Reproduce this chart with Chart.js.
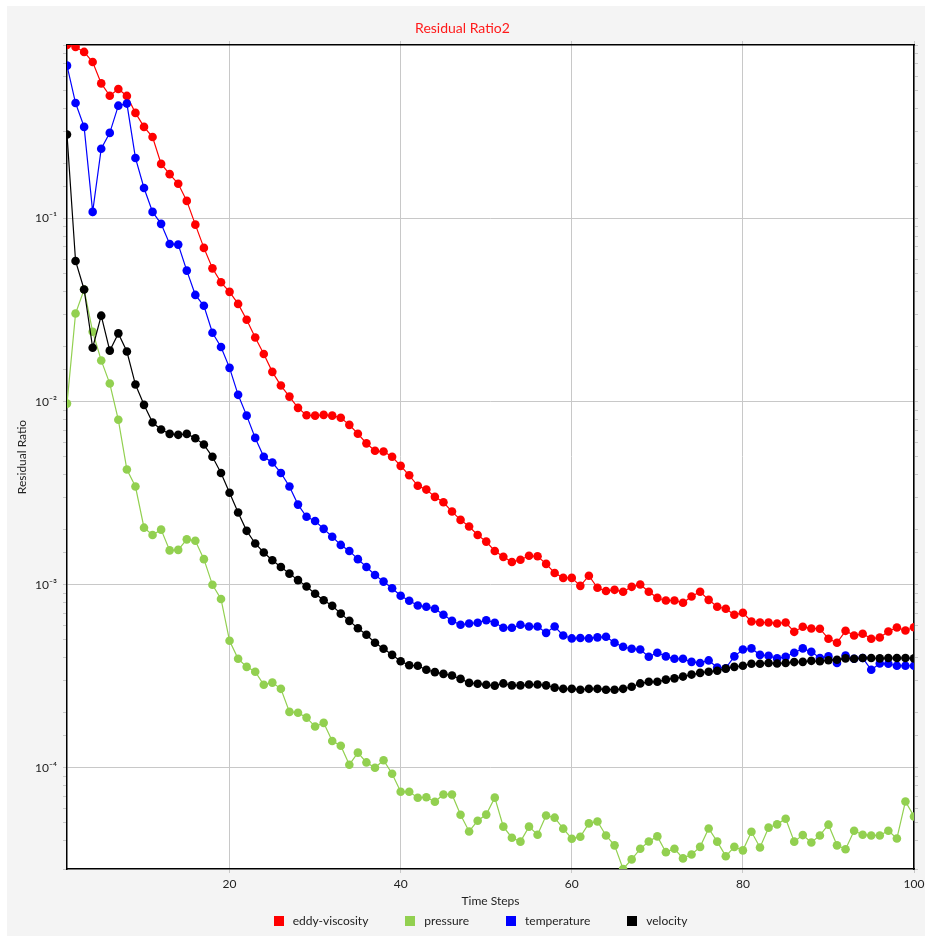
<!DOCTYPE html>
<html>
<head>
<meta charset="utf-8">
<script src="https://cdn.jsdelivr.net/npm/chart.js@4.4.1/dist/chart.umd.min.js"></script>
<style>
    html, body { margin: 0; padding: 0; background: #fff; }
    #wrap { position: relative; width: 925px; height: 936px; }
    #legend {
        position: absolute; left: 36px; width: 889px; top: 912px; height: 17px;
        display: flex; justify-content: center; align-items: center;
        font: 12px Lato, sans-serif; color: #222;
    }
    .item { display: flex; align-items: center; margin-right: 37px; }
    .item:last-child { margin-right: 0; }
    .box { width: 10px; height: 10px; margin-right: 9px; }
</style>
</head>
<body>
<div id="wrap">
    <canvas id="chart"></canvas>
    <div id="legend"></div>
</div>
<script>
// Data
const timeSteps = [
    1, 2, 3, 4, 5, 6, 7, 8, 9, 10, 11, 12, 13, 14, 15, 16, 17, 18, 19, 20,
    21, 22, 23, 24, 25, 26, 27, 28, 29, 30, 31, 32, 33, 34, 35, 36, 37, 38, 39, 40,
    41, 42, 43, 44, 45, 46, 47, 48, 49, 50, 51, 52, 53, 54, 55, 56, 57, 58, 59, 60,
    61, 62, 63, 64, 65, 66, 67, 68, 69, 70, 71, 72, 73, 74, 75, 76, 77, 78, 79, 80,
    81, 82, 83, 84, 85, 86, 87, 88, 89, 90, 91, 92, 93, 94, 95, 96, 97, 98, 99, 100
];
const xTicks = [20, 40, 60, 80, 100];

const eddyViscosity = [
    0.888, 0.866, 0.814, 0.717, 0.548, 0.469, 0.511, 0.468, 0.378, 0.317,
    0.279, 0.199, 0.175, 0.155, 0.125, 0.0927, 0.0692, 0.0535, 0.0449, 0.0398,
    0.0342, 0.0280, 0.0224, 0.0182, 0.01455, 0.01225, 0.01066, 0.00925, 0.00843, 0.00839,
    0.00847, 0.00839, 0.00817, 0.00747, 0.00668, 0.00592, 0.00539, 0.00534, 0.00500, 0.00446,
    0.00396, 0.00347, 0.00331, 0.00302, 0.00282, 0.00251, 0.00226, 0.00208, 0.00187, 0.00172,
    0.00153, 0.00142, 0.00133, 0.00137, 0.00144, 0.00143, 0.00130, 0.00116, 0.00109, 0.00109,
    0.000986, 0.00112, 0.000962, 0.000924, 0.000938, 0.000915, 0.000974, 0.001003, 0.000915, 0.000848,
    0.000820, 0.000820, 0.000797, 0.000862, 0.000915, 0.000827, 0.000758, 0.000739, 0.000685, 0.000703,
    0.000630, 0.000622, 0.000622, 0.000614, 0.000622, 0.000553, 0.000589, 0.000577, 0.000575, 0.000507,
    0.000482, 0.000560, 0.000528, 0.000540, 0.000507, 0.000515, 0.000555, 0.000584, 0.000562, 0.000586
];

const pressure = [
    0.00976, 0.0303, 0.0410, 0.0241, 0.0168, 0.01256, 0.00796, 0.00426, 0.00344, 0.00205,
    0.00187, 0.00200, 0.00154, 0.00155, 0.00177, 0.00174, 0.00138, 0.000999, 0.000836, 0.000494,
    0.000394, 0.000356, 0.000335, 0.000284, 0.000292, 0.000270, 0.000202, 0.000200, 0.000188, 0.000168,
    0.000176, 0.000140, 0.000132, 0.000104, 0.000121, 0.000107, 0.000100, 0.000110, 0.0000928, 0.0000740,
    0.0000740, 0.0000686, 0.0000691, 0.0000653, 0.0000715, 0.0000715, 0.0000554, 0.0000449, 0.0000514, 0.0000555,
    0.0000687, 0.0000477, 0.0000415, 0.0000395, 0.0000477, 0.0000431, 0.0000549, 0.0000534, 0.0000465, 0.0000410,
    0.0000420, 0.0000497, 0.0000509, 0.0000427, 0.0000377, 0.0000280, 0.0000316, 0.0000361, 0.0000396, 0.0000422,
    0.0000346, 0.0000361, 0.0000320, 0.0000336, 0.0000370, 0.0000466, 0.0000395, 0.0000329, 0.0000370, 0.0000354,
    0.0000447, 0.0000367, 0.0000471, 0.0000491, 0.0000527, 0.0000395, 0.0000429, 0.0000391, 0.0000427, 0.0000489,
    0.0000377, 0.0000359, 0.0000453, 0.0000431, 0.0000427, 0.0000427, 0.0000453, 0.0000411, 0.0000655, 0.0000542
];

const temperature = [
    0.685, 0.428, 0.317, 0.1088, 0.241, 0.294, 0.414, 0.425, 0.2145, 0.147,
    0.1088, 0.0936, 0.0727, 0.0721, 0.0520, 0.0383, 0.0334, 0.0238, 0.0199, 0.0153,
    0.0109, 0.00839, 0.00634, 0.00500, 0.00465, 0.00408, 0.00344, 0.00274, 0.00235, 0.00223,
    0.00202, 0.00183, 0.00165, 0.00153, 0.00138, 0.00125, 0.00113, 0.00104, 0.000957, 0.000870,
    0.000817, 0.000770, 0.000758, 0.000739, 0.000685, 0.000635, 0.000604, 0.000614, 0.000620, 0.000640,
    0.000620, 0.000582, 0.000582, 0.000604, 0.000591, 0.000591, 0.000546, 0.000591, 0.000528, 0.000509,
    0.000512, 0.000509, 0.000516, 0.000520, 0.000482, 0.000458, 0.000447, 0.000443, 0.000404, 0.000425,
    0.000406, 0.000394, 0.000394, 0.000379, 0.000374, 0.000386, 0.000353, 0.000350, 0.000406, 0.000443,
    0.000449, 0.000414, 0.000409, 0.000396, 0.000404, 0.000425, 0.000449, 0.000430, 0.000398, 0.000406,
    0.000374, 0.000410, 0.000394, 0.000398, 0.000343, 0.000371, 0.000370, 0.000361, 0.000361, 0.000361
];

const velocity = [
    0.288, 0.0587, 0.0410, 0.0197, 0.0295, 0.0190, 0.0236, 0.0188, 0.0124, 0.00961,
    0.00769, 0.00705, 0.00667, 0.00659, 0.00667, 0.00631, 0.00583, 0.00500, 0.00408, 0.00318,
    0.00248, 0.00197, 0.00168, 0.00150, 0.00136, 0.00125, 0.00115, 0.00106, 0.000978, 0.000893,
    0.000822, 0.000767, 0.000695, 0.000635, 0.000579, 0.000533, 0.000482, 0.000447, 0.000414, 0.000382,
    0.000363, 0.000361, 0.000343, 0.000333, 0.000326, 0.000319, 0.000306, 0.000291, 0.000288, 0.000284,
    0.000281, 0.000289, 0.000282, 0.000282, 0.000285, 0.000285, 0.000282, 0.000274, 0.000270, 0.000270,
    0.000267, 0.000270, 0.000270, 0.000267, 0.000267, 0.000270, 0.000277, 0.000289, 0.000295, 0.000295,
    0.000303, 0.000308, 0.000315, 0.000323, 0.000330, 0.000335, 0.000339, 0.000348, 0.000356, 0.000361,
    0.000370, 0.000370, 0.000374, 0.000371, 0.000374, 0.000378, 0.000379, 0.000384, 0.000382, 0.000387,
    0.000389, 0.000396, 0.000394, 0.000398, 0.000398, 0.000396, 0.000398, 0.000398, 0.000398, 0.000396
];

const seriesNames = ['eddy-viscosity', 'pressure', 'temperature', 'velocity'];
const seriesColors = ['#ff0000', '#92d050', '#0000ff', '#000000'];
const seriesValues = [eddyViscosity, pressure, temperature, velocity];
const drawOrder = [3, 2, 1, 0];

const allValues = [].concat(eddyViscosity, pressure, temperature, velocity);
const yMin = Math.min(...allValues);
const yMax = Math.max(...allValues);

const FONT = 'Lato, sans-serif';
const GRID_COLOR = '#c8c8c8';

function superscript(n) {
    const map = { '-': '\u207B', '0': '\u2070', '1': '\u00B9', '2': '\u00B2', '3': '\u00B3',
        '4': '\u2074', '5': '\u2075', '6': '\u2076', '7': '\u2077', '8': '\u2078', '9': '\u2079' };
    return String(n).split('').map(c => map[c]).join('');
}

function isPowerOfTen(v) {
    const l = Math.log10(v);
    return Math.abs(l - Math.round(l)) < 1e-6;
}

// Panel background + white plot area
const panelBackground = {
    id: 'panelBackground',
    beforeDraw(chart) {
        const { ctx, chartArea } = chart;
        ctx.save();
        ctx.fillStyle = '#ffffff';
        ctx.fillRect(0, 0, chart.width, chart.height);
        ctx.fillStyle = '#f4f4f4';
        ctx.fillRect(7, 6, chart.width - 7, chart.height - 6);
        ctx.fillStyle = '#ffffff';
        ctx.fillRect(chartArea.left, chartArea.top, chartArea.right - chartArea.left, chartArea.bottom - chartArea.top);
        ctx.restore();
    }
};

const datasets = seriesNames.map((name, i) => ({
    label: name,
    data: timeSteps.map((s, j) => ({ x: s, y: seriesValues[i][j] })),
    borderColor: seriesColors[i],
    backgroundColor: seriesColors[i],
    pointBackgroundColor: seriesColors[i],
    borderWidth: 1.2,
    pointRadius: 4.3,
    pointBorderWidth: 0,
    tension: 0,
    fill: false,
    order: drawOrder[i]
}));

const ctx = document.getElementById('chart').getContext('2d');
const chart = new Chart(ctx, {
    type: 'line',
    data: { datasets: datasets },
    plugins: [panelBackground],
    options: {
        responsive: true,
        maintainAspectRatio: false,
        animation: false,
        layout: { padding: { left: 0, right: 0, top: 0, bottom: 27.3 } },
        plugins: {
            legend: { display: false },
            tooltip: { enabled: false },
            title: {
                display: true,
                text: 'Residual Ratio2',
                color: '#ff1a1a',
                font: { family: FONT, size: 14, weight: 'normal', lineHeight: 1.2 },
                padding: { top: 19.6, bottom: 3.2 }
            }
        },
        scales: {
            x: {
                type: 'linear',
                position: 'bottom',
                min: 1,
                max: 100,
                afterBuildTicks: scale => { scale.ticks = xTicks.map(v => ({ value: v })); },
                afterFit: scale => { scale.height = 39.7; scale.paddingLeft = 0; scale.paddingRight = 0; },
                grid: { color: GRID_COLOR, tickColor: GRID_COLOR, tickLength: 4 },
                border: { color: '#000', width: 1.5 },
                ticks: { color: '#222', padding: 4, maxRotation: 0, font: { family: FONT, size: 12 } },
                title: { display: true, text: 'Time Steps', color: '#222', padding: { top: 0, bottom: 0 }, font: { family: FONT, size: 12 } }
            },
            xTop: {
                type: 'linear',
                position: 'top',
                min: 1,
                max: 100,
                afterBuildTicks: scale => { scale.ticks = xTicks.map(v => ({ value: v })); },
                afterFit: scale => { scale.height = 5.4; scale.paddingLeft = 0; scale.paddingRight = 0; },
                grid: { drawOnChartArea: false, color: GRID_COLOR, tickColor: GRID_COLOR, tickLength: 4 },
                border: { color: '#000', width: 1.5 },
                ticks: { display: false }
            },
            y: {
                type: 'logarithmic',
                position: 'left',
                min: yMin,
                max: yMax,
                afterFit: scale => { scale.width = 67; scale.paddingTop = 0; scale.paddingBottom = 0; },
                grid: {
                    color: c => (c.tick && isPowerOfTen(c.tick.value) && c.tick.value > yMin && c.tick.value < yMax) ? GRID_COLOR : 'rgba(0,0,0,0)',
                    tickColor: GRID_COLOR,
                    tickLength: 4
                },
                border: { color: '#000', width: 1.5 },
                ticks: {
                    autoSkip: false,
                    color: '#222',
                    padding: 6,
                    font: { family: FONT, size: 12 },
                    callback: v => isPowerOfTen(v) ? '10' + superscript(Math.round(Math.log10(v))) : ''
                },
                title: { display: true, text: 'Residual Ratio', color: '#222', padding: { top: 15.3, bottom: 0 }, font: { family: FONT, size: 12 } }
            },
            yRight: {
                type: 'logarithmic',
                position: 'right',
                min: yMin,
                max: yMax,
                afterFit: scale => { scale.width = 11; scale.paddingTop = 0; scale.paddingBottom = 0; },
                grid: { drawOnChartArea: false, color: 'rgba(0,0,0,0)', tickColor: GRID_COLOR, tickLength: 4 },
                border: { color: '#000', width: 1.5 },
                ticks: { display: false, autoSkip: false }
            }
        }
    }
});

// Legend
const legend = document.getElementById('legend');
chart.data.datasets.forEach(ds => {
    const item = document.createElement('div');
    item.className = 'item';
    const box = document.createElement('span');
    box.className = 'box';
    box.style.background = ds.borderColor;
    const text = document.createElement('span');
    text.textContent = ds.label;
    item.appendChild(box);
    item.appendChild(text);
    legend.appendChild(item);
});
</script>
</body>
</html>
